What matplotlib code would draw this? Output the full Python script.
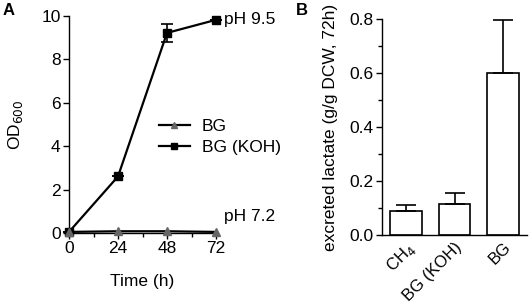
import matplotlib
matplotlib.use("Agg")
import matplotlib.pyplot as plt
from matplotlib.ticker import MultipleLocator
from matplotlib.lines import Line2D

plt.rcParams['font.family'] = ['Liberation Sans', 'DejaVu Sans']
plt.rcParams['font.size'] = 12.5
plt.rcParams['axes.linewidth'] = 1.0

# panel A data
time_h = [0, 24, 48, 72]
od_bg = [0.05, 0.08, 0.08, 0.05]
od_koh = [0.05, 2.6, 9.2, 9.8]
od_koh_err = [0.0, 0.0, 0.4, 0.0]

# panel B data
categories = ["CH$_4$", "BG (KOH)", "BG"]
lactate = [0.09, 0.115, 0.6]
lactate_err = [0.022, 0.04, 0.195]

fs = 12.5

fig = plt.figure(figsize=(5.29, 3.02), dpi=100)

# ---- panel A
axA = fig.add_axes([69/529, 1-233/302, (216-69)/529, (233-15.5)/302])
axA.errorbar(time_h, od_koh, yerr=od_koh_err, color='black', lw=1.6,
             marker='s', ms=6, mfc='black', mec='black', capsize=4,
             elinewidth=1.2, capthick=1.2, clip_on=False, zorder=3)
axA.plot(time_h, od_bg, color='black', lw=1.6, marker='^', ms=6,
         mfc='#666666', mec='#666666', clip_on=False, zorder=4)
axA.set_xlim(0, 72)
axA.set_ylim(0, 10)
axA.set_xticks(time_h)
axA.xaxis.set_minor_locator(MultipleLocator(12))
axA.set_yticks([0, 2, 4, 6, 8, 10])
axA.spines['top'].set_visible(False)
axA.spines['right'].set_visible(False)
axA.tick_params(which='major', length=4, width=1.0, labelsize=fs, pad=2)
axA.tick_params(which='minor', length=3, width=1.0)
axA.set_xlabel("Time (h)", fontsize=fs, labelpad=13)
axA.set_ylabel("OD$_{600}$", fontsize=fs, labelpad=12)
axA.text(76, 9.8, "pH 9.5", fontsize=fs, va='center', ha='left', clip_on=False)
axA.text(76, 0.75, "pH 7.2", fontsize=fs, va='center', ha='left', clip_on=False)

handles = [
    Line2D([], [], color='black', lw=1.6, marker='^', ms=5, mfc='#666666', mec='#666666'),
    Line2D([], [], color='black', lw=1.6, marker='s', ms=5, mfc='black', mec='black'),
]
axA.legend(handles, ["BG", "BG (KOH)"], frameon=False, fontsize=fs,
           loc='center left', bbox_to_anchor=(0.55, 0.44), handlelength=1.8,
           handletextpad=0.7, labelspacing=0.35, borderpad=0)

fig.text(0.004, 0.99, "A", fontsize=12, fontweight='bold', va='top')

# ---- panel B
axB = fig.add_axes([382/529, 1-235/302, (527-382)/529, (235-19)/302])
xpos = list(range(len(categories)))
axB.bar(xpos, lactate, width=0.66, color='white', edgecolor='black', lw=1.2,
        yerr=[[0]*3, lactate_err], capsize=7,
        error_kw=dict(elinewidth=1.2, capthick=1.2, ecolor='black'))
axB.set_xlim(-0.5, 2.5)
axB.set_ylim(0, 0.8)
axB.set_yticks([0.0, 0.2, 0.4, 0.6, 0.8])
axB.set_yticklabels(["0.0", "0.2", "0.4", "0.6", "0.8"])
axB.yaxis.set_minor_locator(MultipleLocator(0.1))
axB.set_xticks(xpos)
axB.set_xticklabels(categories, rotation=45, ha='right', va='top',
                    rotation_mode='anchor', fontsize=12)
axB.tick_params(axis='x', length=0, pad=3)
axB.tick_params(axis='y', which='major', length=4, width=1.0, labelsize=fs, pad=2)
axB.tick_params(axis='y', which='minor', length=3, width=1.0)
axB.spines['top'].set_visible(False)
axB.spines['right'].set_visible(False)
axB.set_ylabel("excreted lactate (g/g DCW, 72h)", fontsize=fs, labelpad=8)

fig.text(296/529, 0.99, "B", fontsize=12, fontweight='bold', va='top')

fig.savefig("out.png", dpi=100)
